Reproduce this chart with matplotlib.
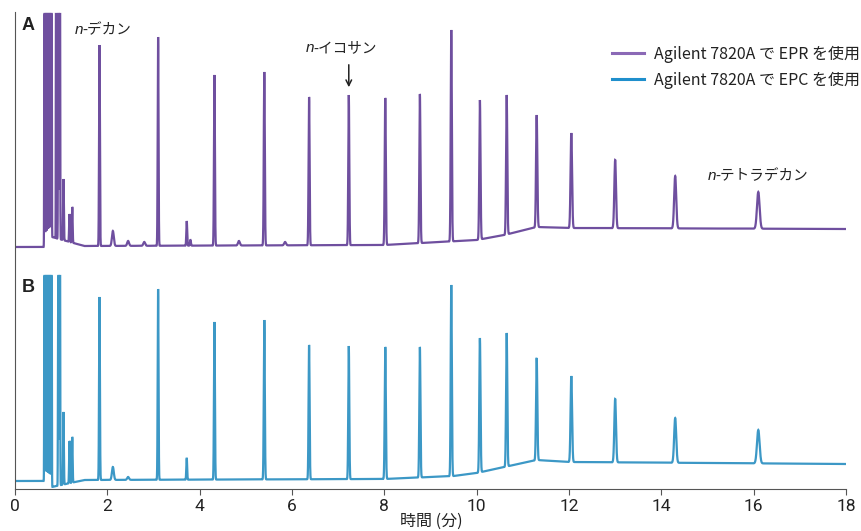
import numpy as np
import matplotlib
matplotlib.use("Agg")
import matplotlib.pyplot as plt
from matplotlib.lines import Line2D

# ---------------- data ----------------
# Trace A (EPR): retention times (min) and peak apex heights (axis units, 0 = x-axis)
a_times = [0.64, 0.67, 0.70, 0.73, 0.76, 0.79, 0.89, 0.94, 0.97, 1.05, 1.18, 1.24, 1.83, 2.12, 2.45, 2.8, 3.10,
           3.72, 3.80, 4.32, 4.85, 5.40, 5.85, 6.37, 7.23, 8.02, 8.77, 9.45, 10.07, 10.65,
           11.30, 12.05, 13.00, 14.30, 16.10]
a_heights = [475, 475, 475, 475, 475, 475, 475, 475, 475, 310, 275, 282, 444, 258, 248, 247, 452,
             268, 249, 414, 248, 417, 247, 392, 394, 391, 395, 459, 389, 394,
             374, 356, 329, 313, 297]
a_widths = [0.005, 0.005, 0.005, 0.005, 0.005, 0.005, 0.004, 0.006, 0.006, 0.008, 0.008, 0.008, 0.009, 0.02, 0.02, 0.02, 0.009,
            0.009, 0.01, 0.01, 0.02, 0.011, 0.02, 0.011, 0.011, 0.012, 0.012, 0.012, 0.013, 0.013,
            0.014, 0.016, 0.018, 0.022, 0.028]
a_base_t = [0.0, 0.62, 0.80, 1.5, 8.0, 10.0, 10.6, 11.3, 12.0, 18.0]
a_base_y = [242, 242, 252, 243, 244, 249, 254, 262, 261, 260]

# Trace B (EPC)
b_times = [0.64, 0.67, 0.70, 0.73, 0.76, 0.79, 0.94, 0.97, 1.05, 1.18, 1.24, 1.83, 2.12, 2.45, 3.10,
           3.72, 4.32, 5.40, 6.37, 7.23, 8.02, 8.77, 9.45, 10.07, 10.65,
           11.30, 12.05, 13.00, 14.30, 16.10]
b_heights = [213, 213, 213, 213, 213, 213, 213, 213, 77, 48, 52, 192, 22, 12, 200,
             31, 167, 169, 144, 143, 142, 142, 204, 151, 156,
             131, 113, 90, 71, 59]
b_widths = [0.005, 0.005, 0.005, 0.005, 0.005, 0.005, 0.006, 0.006, 0.008, 0.008, 0.008, 0.009, 0.02, 0.02, 0.009,
            0.009, 0.01, 0.011, 0.011, 0.011, 0.012, 0.012, 0.012, 0.013, 0.013,
            0.014, 0.016, 0.018, 0.022, 0.028]
b_base_t = [0.0, 0.62, 0.80, 1.5, 8.0, 9.5, 10.0, 11.3, 12.0, 18.0]
b_base_y = [8, 8, 2, 9, 10, 13, 16, 29, 27, 25]

x_ticks = [0, 2, 4, 6, 8, 10, 12, 14, 16, 18]
x_label = "時間 (分)"
legend_labels = ["Agilent 7820A で EPR を使用", "Agilent 7820A で EPC を使用"]

# ---------------- build traces ----------------
t = np.linspace(0, 18, 24001)


def trace(times, heights, widths, bt, by, clip):
    base = np.interp(t, bt, by)
    y = base.copy()
    for tc, h, w in zip(times, heights, widths):
        b0 = np.interp(tc, bt, by)
        amp = (h - b0) * (2.5 if h >= clip else 1.0)
        y += amp * np.exp(-0.5 * ((t - tc) / w) ** 2)
    return np.minimum(y, clip)


ya = trace(a_times, a_heights, a_widths, a_base_t, a_base_y, 475)
yb = trace(b_times, b_heights, b_widths, b_base_t, b_base_y, 213)

# ---------------- figure ----------------
W, H = 862, 531
fig = plt.figure(figsize=(W / 100, H / 100), dpi=100)
ax = fig.add_axes([15 / W, (H - 489) / H, (846 - 15) / W, (489 - 12) / H])

col_a = "#6f4f9f"
col_b = "#3c98c6"
ax.plot(t, ya, color=col_a, lw=1.6, solid_joinstyle="miter")
ax.plot(t, yb, color=col_b, lw=1.6, solid_joinstyle="miter")

ax.set_xlim(0, 18)
ax.set_ylim(0, 477)
for s in ["top", "right"]:
    ax.spines[s].set_visible(False)
ax.spines["left"].set_color("#555555")
ax.spines["bottom"].set_color("#555555")
ax.set_yticks([])
ax.set_xticks(x_ticks)
ax.tick_params(axis="x", direction="out", length=4, color="#555555", pad=3)
ax.set_xticklabels([str(v) for v in x_ticks], family=["Roboto", "DejaVu Sans"], fontsize=12.5,
                   color="#222222")

fig.text(431 / W, (H - 521) / H, x_label, family=["Noto Sans CJK JP"], fontsize=11.5,
         ha="center", va="center", color="#222222")

fig.text(22 / W, (H - 26) / H, "A", family=["Liberation Sans"], weight="bold", fontsize=13,
         va="center", color="#222222")
fig.text(22 / W, (H - 287) / H, "B", family=["Liberation Sans"], weight="bold", fontsize=13,
         va="center", color="#222222")


def nlabel(xpix, ypix, rest):
    fig.text(xpix / W, (H - ypix) / H, "n", family=["Liberation Sans"], style="italic",
             fontsize=11, va="center", color="#222222")
    fig.text(xpix / W + 7 / W, (H - ypix) / H, rest, family=["Noto Sans CJK JP"],
             fontsize=10.5, va="center", color="#222222")


nlabel(75, 30, "-デカン")
nlabel(306, 48, "-イコサン")
nlabel(708, 176, "-テトラデカン")

ax.annotate("", xy=(7.23, 489 - 90), xytext=(7.23, 489 - 62),
            arrowprops=dict(arrowstyle="->", color="#222222", lw=1.1))

handles = [Line2D([0], [0], color="#8b69b6", lw=2.2), Line2D([0], [0], color="#1f8fcc", lw=2.2)]
leg = ax.legend(handles, legend_labels, loc="upper right", bbox_to_anchor=(874 / W, (H - 31) / H),
                bbox_transform=fig.transFigure, frameon=False,
                prop={"family": ["Noto Sans CJK JP"], "size": 11.5}, handlelength=2.0,
                handletextpad=0.6, labelspacing=0.55)
for tx in leg.get_texts():
    tx.set_color("#222222")

fig.savefig("out.png", dpi=100)
